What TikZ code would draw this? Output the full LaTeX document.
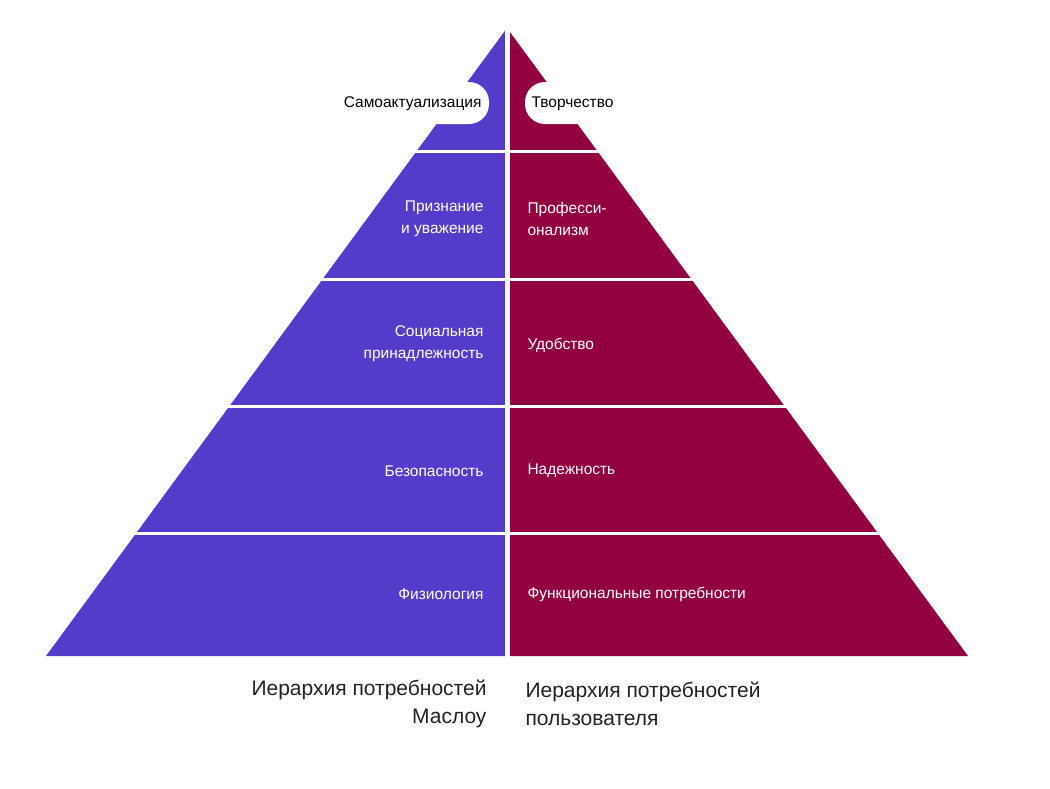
\documentclass[tikz,border=0pt]{standalone}
\usepackage{fontspec}
\setmainfont{Liberation Sans}
\definecolor{lpurp}{HTML}{553BC9}
\definecolor{rcrim}{HTML}{930040}
\definecolor{ttl}{HTML}{222222}
\begin{document}
\begin{tikzpicture}[x=1pt,y=-1pt,
  lbl/.style={text=white,font=\fontsize{15.5}{22}\selectfont,align=right,anchor=east},
  rbl/.style={text=white,font=\fontsize{15.5}{22}\selectfont,align=left,anchor=west},
  ttlL/.style={text=ttl,font=\fontsize{21}{28}\selectfont,align=right,anchor=east},
  ttlR/.style={text=ttl,font=\fontsize{21}{28}\selectfont,align=left,anchor=west}]
\useasboundingbox (0,0) rectangle (1050,788);
\fill[lpurp] (507,28) -- (46,656) -- (507,656) -- cycle;
\fill[rcrim] (507,28) -- (968,656) -- (507,656) -- cycle;
\draw[white,line width=5] (507.5,20) -- (507.5,660);
\foreach \y in {151,279,406,533} \draw[white,line width=3] (30,\y) -- (990,\y);
\fill[white,rounded corners=20] (290,82) rectangle (489,124);
\fill[white,rounded corners=20] (525,82) rectangle (700,124);
\node[anchor=east,font=\fontsize{15.5}{20}\selectfont] (s1) at (485,104) {Самоактуализация};
\node[anchor=west,font=\fontsize{15.5}{20}\selectfont] (t1) at (528,104) {Творчество};
\node[lbl] (s2) at (487,219) {Признание\\и уважение};
\node[lbl] (s3) at (487,344) {Социальная\\принадлежность};
\node[lbl] (s4) at (487,471) {Безопасность};
\node[lbl] (s5) at (487,594) {Физиология};
\node[rbl] (t2) at (524,219) {Професси-\\онализм};
\node[rbl] (t3) at (524,345) {Удобство};
\node[rbl] (t4) at (524,471) {Надежность};
\node[rbl] (t5) at (524,594) {Функциональные потребности};
\node[ttlL] (a) at (490,704) {Иерархия потребностей\\Маслоу};
\node[ttlR] (b) at (522,704) {Иерархия потребностей\\пользователя};
\end{tikzpicture}
\end{document}
